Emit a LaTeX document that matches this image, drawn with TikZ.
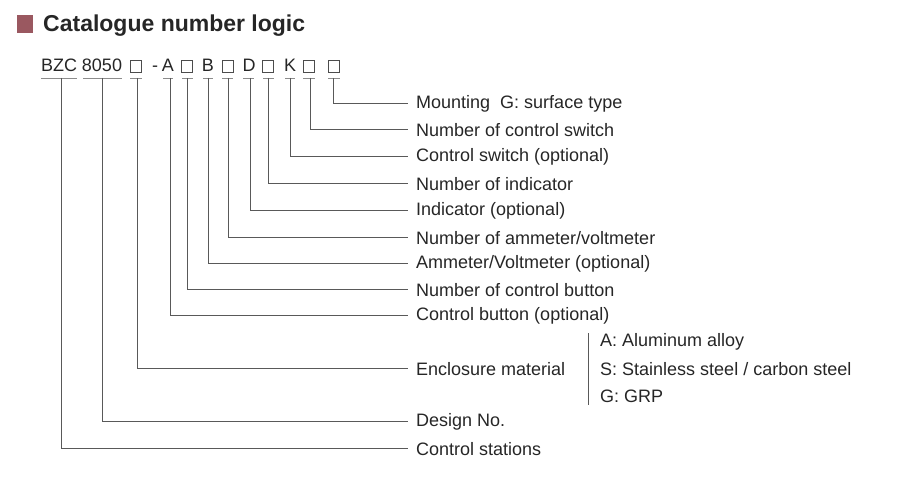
\documentclass[tikz,border=0pt]{standalone}
\usepackage{fontspec}
\setmainfont{Liberation Sans}
\begin{document}
\begin{tikzpicture}[x=1pt,y=-1pt,
  lbl/.style={anchor=west,inner sep=0,font=\fontsize{18}{20}\selectfont,text=black!85},
  code/.style={anchor=base,inner sep=0,font=\fontsize{18}{20}\selectfont,text=black!85},
  box/.style={draw=black!70,line width=0.7pt,minimum width=11pt,minimum height=12pt,inner sep=0},
  ln/.style={draw=black!65,line width=0.6pt},
  ul/.style={draw=black!45,line width=0.6pt}]
\useasboundingbox (0,0) rectangle (913,487);
\fill[fill={rgb,255:red,154;green,88;blue,96}] (17,15) rectangle (33,33);
\node[anchor=base west,inner sep=0,font=\fontsize{23}{26}\selectfont\bfseries,text=black!85] (title) at (43,32) {Catalogue number logic};
% code row
\node[code] (c1) at (59,72) {BZC};
\node[code] (c2) at (102,72) {8050};
\node[box] (s1) at (136,66) {};
\node[code] (dash) at (155,72) {-};
\node[code] (cA) at (168,72) {A};
\node[box] (s2) at (187,66) {};
\node[code] (cB) at (208,72) {B};
\node[box] (s3) at (228,66) {};
\node[code] (cD) at (249,72) {D};
\node[box] (s4) at (268,66) {};
\node[code] (cK) at (290,72) {K};
\node[box] (s5) at (309,66) {};
\node[box] (s6) at (334,66) {};
% underlines
\foreach \a/\b in {41/77,83/122,130/142,163/173,182/193,203/213,222/233,243/254,263/274,285/295,303/315,328/340}
  \draw[ul] (\a,78) -- (\b,78);
% labels
\node[lbl] (l1) at (416,104) {Mounting\ \ G: surface type};
\node[lbl] (l2) at (416,130) {Number of control switch};
\node[lbl] (l3) at (416,157) {Control switch (optional)};
\node[lbl] (l4) at (416,184) {Number of indicator};
\node[lbl] (l5) at (416,211) {Indicator (optional)};
\node[lbl] (l6) at (416,238) {Number of ammeter/voltmeter};
\node[lbl] (l7) at (416,264) {Ammeter/Voltmeter (optional)};
\node[lbl] (l8) at (416,290) {Number of control button};
\node[lbl] (l9) at (416,316) {Control button (optional)};
\node[lbl] (l10) at (416,369) {Enclosure material};
\node[lbl] (l11) at (416,422) {Design No.};
\node[lbl] (l12) at (416,449) {Control stations};
\node[lbl] (o1) at (600,342) {A: Aluminum alloy};
\node[lbl] (o2) at (600,369) {S: Stainless steel / carbon steel};
\node[lbl] (o3) at (600,396) {G: GRP};
\draw[ln] (588,333) -- (588,405);
% connectors
\foreach \x/\y/\l in {333/103/l1,310/129/l2,290/156/l3,268/183/l4,250/210/l5,228/237/l6,208/263/l7,187/289/l8,170/315/l9,137/368/l10,102/421/l11,61/448/l12}
  \draw[ln] (\x,78) -- (\x,\y) -- (408,\y);
\end{tikzpicture}
\end{document}
